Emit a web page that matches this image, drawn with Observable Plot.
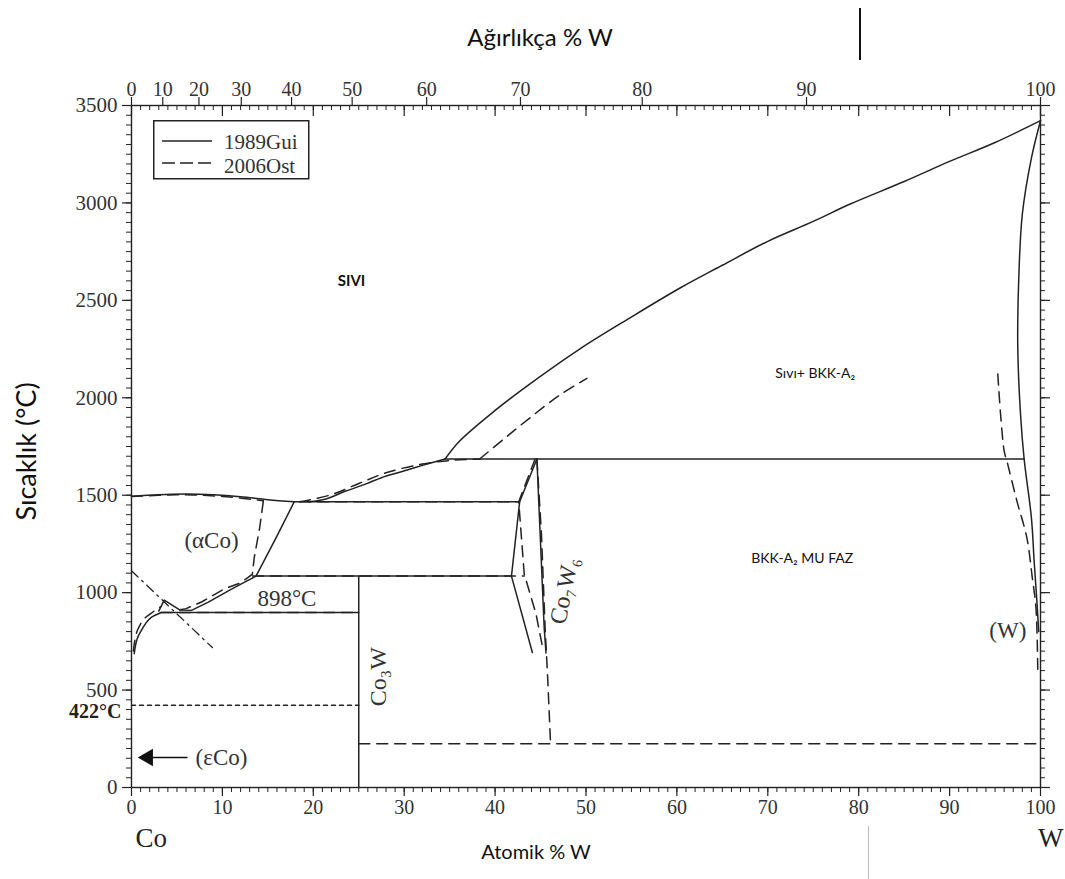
<!DOCTYPE html>
<html><head><meta charset="utf-8">
<script src="https://cdn.jsdelivr.net/npm/d3@7"></script>
<script src="https://cdn.jsdelivr.net/npm/@observablehq/plot@0.6"></script>
<style>
body{margin:0;background:#fff;}
#wrap{position:relative;width:1065px;height:879px;overflow:hidden;background:#fff;}
#legend{position:absolute;left:153px;top:120px;}
.art1{position:absolute;left:859px;top:8px;width:1.5px;height:52px;background:#111;}
.art2{position:absolute;left:868px;top:826px;width:1px;height:53px;background:#bbb;}
</style></head><body><div id="wrap"><div class="art1"></div><div class="art2"></div></div>
<script>
// ---------- axis values ----------
const xTicks = [0,10,20,30,40,50,60,70,80,90,100];          // Atomik % W
const yTicks = [0,500,1000,1500,2000,2500,3000,3500];       // °C
const wtTicks = [0,10,20,30,40,50,60,70,80,90,100];         // Ağırlıkça % W
const massCo = 58.933, massW = 183.84;
const seriesNames = ["1989Gui","2006Ost"];

// ---------- 1989Gui (solid) boundaries : [at% W, °C] ----------
const gui_liqCo   = [[0,1495],[3,1503],[6,1506],[9,1502],[12,1492],[15,1477],[17.9,1466]];
const gui_liqMid  = [[19.5,1466],[21.4,1481],[23.5,1520],[25.8,1558],[27.5,1590],[29.5,1618],[32,1653],[34.5,1686]];
const gui_liqHi   = [[34.5,1686],[36.1,1778],[40,1935],[43.8,2070],[49.3,2250],[54.8,2409],[60.3,2562],[65,2680],[70,2803],[75,2905],[79,2993],[85,3110],[90,3213],[95,3310],[100,3422]];
const gui_solW    = [[100,3422],[99.0,3230],[98.0,2942],[97.6,2598],[97.5,2255],[97.8,1917],[98.2,1686],[99.0,1384],[99.3,1163],[99.6,958],[99.8,800]];
const gui_solvCo  = [[17.9,1466],[15.9,1281],[13.7,1085],[11.0,1018],[8.4,950],[6.6,909],[5.3,911],[3.6,962],[3.0,905]];
const gui_lowCo   = [[0.3,687],[0.6,760],[1.07,805],[1.6,845],[2.17,873],[3.27,898]];
const gui_c7w6L   = [[44.6,1686],[42.7,1466],[41.8,1085],[44.1,693]];
const gui_c7w6R   = [[44.6,1686],[45.4,820],[45.6,690]];
const gui_peri    = [[34.5,1686],[98.2,1686]];
const gui_eut     = [[17.9,1466],[42.7,1466]];
const gui_c3wTop  = [[13.7,1085],[41.8,1085]];
const gui_c3w     = [[25,0],[25,1085]];
const gui_eutd    = [[3.27,898],[25,898]];

// ---------- 2006Ost (dashed) boundaries ----------
const ost_liqCo   = [[0,1493],[5,1502],[10,1494],[14.5,1472]];
const ost_solvCo  = [[14.5,1468],[14.4,1435],[14.1,1333],[13.5,1179],[13.3,1095],[12,1050],[10.2,1019],[7.7,952],[6,918],[4.6,906]];
const ost_lowCo   = [[0.2,700],[0.6,800],[1.4,866],[2.4,902],[3.2,928]];
const ost_liqMid  = [[18.5,1466],[22,1503],[25,1560],[28,1615],[32,1660],[35.5,1680],[38.3,1686]];
const ost_liqHi   = [[38.3,1686],[41,1790],[43.8,1896],[47,2010],[50.1,2100]];
const ost_eut     = [[18.5,1466],[42.6,1466]];
const ost_c3wTop  = [[13.3,1085],[43.2,1085]];
const ost_eutd    = [[3.3,898],[25,898]];
const ost_c7w6L   = [[44.4,1686],[42.6,1466],[43.2,1097],[44.5,891],[45.3,700]];
const ost_c7w6R   = [[44.6,1686],[45.1,1300],[45.5,820],[45.8,548],[46.1,225]];
const ost_W       = [[95.3,2122],[96.0,1727],[96.3,1676],[97.4,1471],[98.5,1281],[99.1,1076],[99.5,922],[99.7,600]];
const ost_low     = [[25,225],[100,225]];

// ---------- other lines ----------
const line422   = [[0,422],[25,422]];
const curie     = [[0,1112],[8.9,718]];
const epsArrow  = [[1.8,154],[6.1,154]];

// ---------- labels ----------
const sivi          = ["SIVI"];
const siviAt        = [[24.2,2598]];
const sansLabels    = ["Sıvı+ BKK-A₂","BKK-A₂ MU FAZ"];
const sansLabelEnd  = [[79.6,2125],[79.4,1175]];
const serifLabels   = ["(αCo)","898°C","(W)","(εCo)"];
const serifLabelAt  = [[8.8,1268],[17.1,970],[96.4,805],[9.9,154]];
const rotLabels     = ["Co₃W","Co₇W₆"];
const rotLabelAt    = [[27.2,569],[47.6,1010]];
const rotLabelDeg   = [-90,-79];

// ---------- build tables ----------
function seg(id, src, smooth, pts){ return pts.map(([x,t]) => ({id, src, smooth, x, t})); }
const rows = [
  ...seg("liqCo","1989Gui",true,gui_liqCo), ...seg("liqMid","1989Gui",true,gui_liqMid),
  ...seg("liqHi","1989Gui",true,gui_liqHi), ...seg("solW","1989Gui",true,gui_solW),
  ...seg("solvCo","1989Gui",false,gui_solvCo), ...seg("lowCo","1989Gui",true,gui_lowCo),
  ...seg("c7L","1989Gui",false,gui_c7w6L), ...seg("c7R","1989Gui",false,gui_c7w6R),
  ...seg("peri","1989Gui",false,gui_peri), ...seg("eut","1989Gui",false,gui_eut),
  ...seg("c3top","1989Gui",false,gui_c3wTop), ...seg("c3w","1989Gui",false,gui_c3w),
  ...seg("eutd","1989Gui",false,gui_eutd),
  ...seg("oliqCo","2006Ost",true,ost_liqCo), ...seg("osolv","2006Ost",false,ost_solvCo),
  ...seg("olow","2006Ost",true,ost_lowCo), ...seg("oliqMid","2006Ost",true,ost_liqMid),
  ...seg("oliqHi","2006Ost",true,ost_liqHi), ...seg("oeut","2006Ost",false,ost_eut),
  ...seg("oc3top","2006Ost",false,ost_c3wTop), ...seg("oeutd","2006Ost",false,ost_eutd),
  ...seg("oc7L","2006Ost",false,ost_c7w6L), ...seg("oc7R","2006Ost",false,ost_c7w6R),
  ...seg("oW","2006Ost",true,ost_W), ...seg("olow2","2006Ost",false,ost_low)
];
const toAt = w => { const a = w/massW, b = (100-w)/massCo; return 100*a/(a+b); };

const W = 1065, H = 879, mL = 131, mR = 25, mT = 105, mB = 92;
const FW = W-mL-mR, FH = H-mT-mB;
const serif = "Liberation Serif, Times New Roman, serif";
const sans = "Lato, 'Open Sans', sans-serif";
const ink = "#222";

const solid = rows.filter(d => d.src === "1989Gui");
const dashed = rows.filter(d => d.src === "2006Ost");

const chart = Plot.plot({
  width: W, height: H,
  marginLeft: mL, marginRight: mR, marginTop: mT, marginBottom: mB,
  x: {domain: [0,100], axis: null},
  y: {domain: [0,3500], axis: null},
  style: {background: "transparent", overflow: "visible"},
  marks: [
    // ticks bottom
    Plot.tickX(d3.range(0,101,1), {x: d=>d, insetTop: FH, insetBottom: -5, stroke: ink}),
    Plot.tickX(xTicks, {x: d=>d, insetTop: FH, insetBottom: -9, stroke: ink, strokeWidth: 1.2}),
    // ticks top (atomic, inside)
    Plot.tickX(d3.range(0,101,1), {x: d=>d, insetTop: 0, insetBottom: FH-5, stroke: ink}),
    Plot.tickX(xTicks, {x: d=>d, insetTop: 0, insetBottom: FH-11, stroke: ink, strokeWidth: 1.2}),
    // ticks top (weight, outside)
    Plot.tickX(wtTicks, {x: toAt, insetTop: -8, insetBottom: FH, stroke: ink, strokeWidth: 1.2}),
    // ticks left / right
    Plot.tickY(d3.range(0,3501,50), {y: d=>d, insetLeft: -5, insetRight: FW, stroke: ink}),
    Plot.tickY(yTicks, {y: d=>d, insetLeft: -9, insetRight: FW, stroke: ink, strokeWidth: 1.2}),
    Plot.tickY(d3.range(0,3501,50), {y: d=>d, insetLeft: FW, insetRight: -5, stroke: ink}),
    Plot.tickY(yTicks, {y: d=>d, insetLeft: FW, insetRight: -10, stroke: ink, strokeWidth: 1.2}),
    Plot.frame({stroke: ink, strokeWidth: 1.4}),
    // tick labels
    Plot.text(xTicks, {x: d=>d, frameAnchor: "bottom", dy: 26, text: d=>String(d), fontFamily: serif, fontSize: 20, fill: "#333"}),
    Plot.text(wtTicks, {x: toAt, frameAnchor: "top", dy: -24, text: d=>String(d), fontFamily: serif, fontSize: 20, fill: "#333"}),
    Plot.text(yTicks, {y: d=>d, frameAnchor: "left", dx: -14, textAnchor: "end", text: d=>String(d), fontFamily: serif, fontSize: 21, fill: "#333"}),
    Plot.text([422], {y: d=>d, frameAnchor: "left", dx: -10, dy: 6, textAnchor: "end", text: d=>d+"°C", fontFamily: serif, fontSize: 20, fontWeight: "bold", fill: "#222"}),
    // axis titles
    Plot.text(["Ağırlıkça % W"], {frameAnchor: "top", dx: -46, dy: -77, textAnchor: "middle", fontFamily: sans, fontSize: 24, fill: "#111"}),
    Plot.text(["Atomik % W"], {frameAnchor: "bottom", dx: -50, dy: 71, textAnchor: "middle", fontFamily: sans, fontSize: 20, fill: "#111"}),
    Plot.text(["Sıcaklık (°C)"], {frameAnchor: "left", dx: -104, dy: 5, rotate: -90, textAnchor: "middle", fontFamily: sans, fontSize: 27, fill: "#111"}),
    Plot.text(["Co"], {frameAnchor: "bottom-left", dx: 4, dy: 59, textAnchor: "start", fontFamily: serif, fontSize: 27, fill: "#222"}),
    Plot.text(["W"], {frameAnchor: "bottom-right", dx: 23, dy: 59, textAnchor: "end", fontFamily: serif, fontSize: 27, fill: "#222"}),
    // phase boundaries
    Plot.line(solid.filter(d=>d.smooth), {x: "x", y: "t", z: "id", curve: "catmull-rom", stroke: ink, strokeWidth: 1.5}),
    Plot.line(solid.filter(d=>!d.smooth), {x: "x", y: "t", z: "id", stroke: ink, strokeWidth: 1.5}),
    Plot.line(dashed.filter(d=>d.smooth), {x: "x", y: "t", z: "id", curve: "catmull-rom", stroke: ink, strokeWidth: 1.5, strokeDasharray: "11,7"}),
    Plot.line(dashed.filter(d=>!d.smooth), {x: "x", y: "t", z: "id", stroke: ink, strokeWidth: 1.5, strokeDasharray: "11,7"}),
    Plot.line(line422, {x: d=>d[0], y: d=>d[1], stroke: ink, strokeWidth: 1.5, strokeDasharray: "4,4"}),
    Plot.line(curie, {x: d=>d[0], y: d=>d[1], stroke: ink, strokeWidth: 1.3, strokeDasharray: "9,5,2,5"}),
    Plot.line(epsArrow, {x: d=>d[0], y: d=>d[1], stroke: "#111", strokeWidth: 1.6}),
    Plot.dot([epsArrow[0]], {x: d=>d[0], y: d=>d[1], symbol: "triangle", rotate: -90, r: 6.5, fill: "#111", stroke: "none"}),
    // labels
    Plot.text(sivi, {x: (d,i)=>siviAt[i][0], y: (d,i)=>siviAt[i][1], text: d=>d, fontFamily: sans, fontSize: 15, fontWeight: "bold", fill: "#111"}),
    Plot.text(sansLabels, {x: (d,i)=>sansLabelEnd[i][0], y: (d,i)=>sansLabelEnd[i][1], text: d=>d, textAnchor: "end", fontFamily: sans, fontSize: 14, fill: "#111"}),
    Plot.text(serifLabels, {x: (d,i)=>serifLabelAt[i][0], y: (d,i)=>serifLabelAt[i][1], text: d=>d, fontFamily: serif, fontSize: 23, fill: "#333"}),
    Plot.text(rotLabels, {x: (d,i)=>rotLabelAt[i][0], y: (d,i)=>rotLabelAt[i][1], text: d=>d, rotate: (d,i)=>rotLabelDeg[i], fontFamily: serif, fontSize: 24, fill: "#333"})
  ]
});
chart.style.position = "absolute";
chart.style.left = "0px"; chart.style.top = "0px";
const wrap = document.getElementById("wrap");
wrap.appendChild(chart);

// legend
const leg = document.createElement("div");
leg.id = "legend";
const dashes = [null, "13,5"];
leg.innerHTML = `<svg width="157" height="60" xmlns="http://www.w3.org/2000/svg">
<rect x="0.75" y="0.75" width="155" height="58" fill="#fff" stroke="${ink}" stroke-width="1.5"/>
${seriesNames.map((n,i)=>`<line x1="9" x2="59" y1="${21+i*22}" y2="${21+i*22}" stroke="${ink}" stroke-width="1.5" ${dashes[i]?`stroke-dasharray="${dashes[i]}"`:""}/>
<text x="71" y="${29+i*24}" font-family="${serif}" font-size="21" fill="#333">${n}</text>`).join("")}
</svg>`;
wrap.appendChild(leg);
</script>
</body></html>
